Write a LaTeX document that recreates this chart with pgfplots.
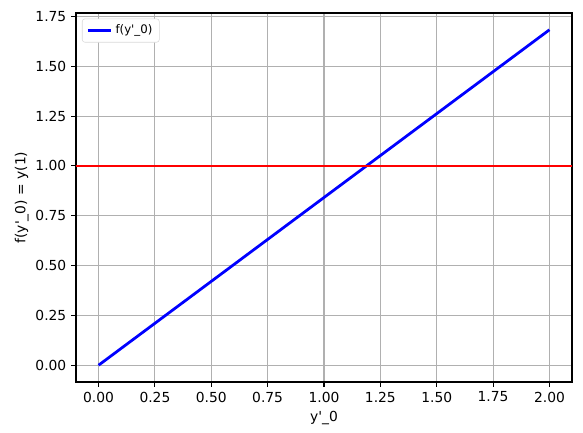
\documentclass[border=0pt]{standalone}
\usepackage{fontspec}
\setmainfont{DejaVu Sans}[Ligatures=TeXOff]
\usepackage{pgfplots}
\pgfplotsset{compat=1.18}
\definecolor{gridgray}{HTML}{B0B0B0}
\begin{document}
\fontsize{10pt}{12pt}\selectfont
\begin{tikzpicture}
\begin{axis}[
  scale only axis,
  width=4.96in, height=3.69in,
  xmin=-0.1, xmax=2.1,
  ymin=-0.0842, ymax=1.7672,
  xtick={0,0.25,0.5,0.75,1,1.25,1.5,1.75,2},
  ytick={0,0.25,0.5,0.75,1,1.25,1.5,1.75},
  /pgf/number format/assume math mode=true,
  xticklabel style={/pgf/number format/.cd,fixed,fixed zerofill,precision=2},
  yticklabel style={/pgf/number format/.cd,fixed,fixed zerofill,precision=2},
  tick label style={font=\fontsize{10pt}{12pt}\selectfont},
  label style={font=\fontsize{10pt}{12pt}\selectfont},
  ylabel style={yshift=-2pt},
  grid=major,
  major grid style={gridgray, line width=0.8pt},
  axis line style={line width=0.8pt},
  tick style={black, line width=0.8pt},
  major tick length=3.5pt,
  tick align=outside,
  xtick pos=lower, ytick pos=left,
  xlabel={y'\_0},
  ylabel={f(y'\_0) = y(1)},
  legend style={font=\fontsize{8.5pt}{10pt}\selectfont, draw=gray!30, rounded corners=2pt, inner xsep=3pt, inner ysep=2.5pt, at={(0.012,0.985)}, anchor=north west},
  legend cell align=left,
  legend image post style={line width=2pt},
]
\addplot[blue, line width=2pt] coordinates {(0,0) (0.5,0.4207) (1,0.8415) (1.5,1.2622) (2,1.6829)};
\addlegendentry{f(y'\_0)}
\addplot[red, line width=2pt, forget plot] coordinates {(-0.1,1) (2.1,1)};
\end{axis}
\pgfresetboundingbox
\path (current axis.south west) ++(-0.76in,-0.51in) coordinate (bl);
\path (current axis.north east) ++(0.11in,0.13in) coordinate (tr);
\path (bl) rectangle (tr);
\end{tikzpicture}
\end{document}
